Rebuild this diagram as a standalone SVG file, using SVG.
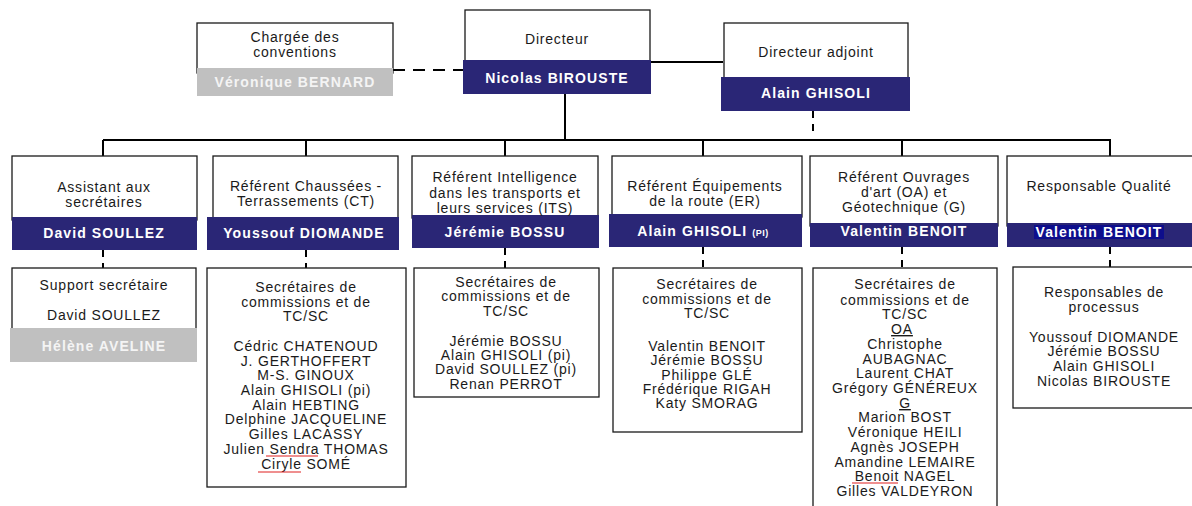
<svg xmlns="http://www.w3.org/2000/svg" width="1192" height="506" viewBox="0 0 1192 506">
<defs>
<style>
.box{fill:#fff;stroke:#1a1a1a;stroke-width:1.3}
.navy{fill:#2a2676}
.gray{fill:#c0c0c0}
text{font-family:"Liberation Sans",Arial,sans-serif;font-size:14px;letter-spacing:0.8px;text-anchor:middle;fill:#1a1a1a}
.w{fill:#fff;font-weight:bold;letter-spacing:1.1px}
.g{fill:#f4f4f4;font-weight:bold;letter-spacing:1.1px}
.ln{stroke:#000;stroke-width:2;fill:none}
.dash{stroke:#000;stroke-width:2;fill:none;stroke-dasharray:7 6}
.red{stroke:#e02020;stroke-width:1.2}
</style>
</defs>
<rect width="1192" height="506" fill="#fff"/>
<g id="connectors">
<line class="ln" x1="393" y1="70" x2="465" y2="70" style="stroke-dasharray:12 8"/>
<line class="ln" x1="650" y1="62" x2="723" y2="62"/>
<line class="ln" x1="565" y1="94" x2="565" y2="140"/>
<line class="dash" x1="813" y1="111" x2="813" y2="132"/>
<line class="ln" x1="103" y1="140" x2="1111" y2="140"/>
<line class="ln" x1="103" y1="140" x2="103" y2="156"/>
<line class="ln" x1="306" y1="140" x2="306" y2="156"/>
<line class="ln" x1="505" y1="140" x2="505" y2="156"/>
<line class="ln" x1="703" y1="140" x2="703" y2="156"/>
<line class="ln" x1="902" y1="140" x2="902" y2="156"/>
<line class="ln" x1="1110" y1="140" x2="1110" y2="156"/>
<line class="dash" x1="103" y1="250" x2="103" y2="268"/>
<line class="dash" x1="306" y1="250" x2="306" y2="268"/>
<line class="dash" x1="505" y1="248" x2="505" y2="268"/>
<line class="dash" x1="703" y1="247" x2="703" y2="268"/>
<line class="dash" x1="902" y1="247" x2="902" y2="268"/>
<line class="dash" x1="1110" y1="247" x2="1110" y2="267"/>
</g>
<g id="chargee">
<rect class="box" x="197" y="23" width="196" height="50"/>
<rect class="gray" x="197" y="68" width="196" height="28"/>
<text x="295" y="42">Chargée des</text>
<text x="295" y="57">conventions</text>
<text class="g" x="295" y="87">Véronique BERNARD</text>
</g>
<g id="directeur">
<rect class="box" x="465" y="10" width="185" height="55"/>
<rect class="navy" x="463" y="60" width="188" height="34"/>
<text x="557" y="44">Directeur</text>
<text class="w" x="557" y="83">Nicolas BIROUSTE</text>
</g>
<g id="adjoint">
<rect class="box" x="724" y="23" width="184" height="58"/>
<rect class="navy" x="721" y="77" width="189" height="34"/>
<text x="816" y="57">Directeur adjoint</text>
<text class="w" x="816" y="98">Alain GHISOLI</text>
</g>
<g id="assistant">
<rect class="box" x="12" y="156" width="185" height="64"/>
<rect class="navy" x="12" y="217" width="185" height="33"/>
<text x="104" y="192">Assistant aux</text>
<text x="104" y="207">secrétaires</text>
<text class="w" x="104" y="238">David SOULLEZ</text>
</g>
<g id="ct">
<rect class="box" x="213" y="156" width="185" height="64"/>
<rect class="navy" x="207" y="217" width="192" height="33"/>
<text x="306" y="191">Référent Chaussées -</text>
<text x="306" y="206">Terrassements (CT)</text>
<text class="w" x="304" y="238">Youssouf DIOMANDE</text>
</g>
<g id="its">
<rect class="box" x="412" y="156" width="186" height="62"/>
<rect class="navy" x="412" y="215" width="187" height="33"/>
<text x="505" y="182">Référent Intelligence</text>
<text x="505" y="198">dans les transports et</text>
<text x="505" y="213">leurs services (ITS)</text>
<text class="w" x="505" y="237">Jérémie BOSSU</text>
</g>
<g id="er">
<rect class="box" x="612" y="156" width="190" height="61"/>
<rect class="navy" x="609" y="214" width="193" height="33"/>
<text x="705" y="191">Référent Équipements</text>
<text x="705" y="206">de la route (ER)</text>
<text class="w" x="703" y="236">Alain GHISOLI <tspan style="font-size:9px;letter-spacing:0.5px">(PI)</tspan></text>
</g>
<g id="oa">
<rect class="box" x="810" y="156" width="188" height="70"/>
<rect class="navy" x="810" y="223" width="188" height="24"/>
<text x="904" y="182">Référent Ouvrages</text>
<text x="904" y="197">d'art (OA) et</text>
<text x="904" y="212">Géotechnique (G)</text>
<text class="w" x="904" y="236">Valentin BENOIT</text>
</g>
<g id="qualite">
<rect class="box" x="1007" y="156" width="190" height="70"/>
<rect class="navy" x="1007" y="223" width="190" height="24"/>
<rect x="1034" y="225" width="130" height="14" fill="#0e0e8c"/>
<text x="1099" y="191">Responsable Qualité</text>
<text class="w" x="1099" y="237">Valentin BENOIT</text>
</g>
<g id="support">
<rect class="box" x="12" y="268" width="184" height="64"/>
<rect class="gray" x="10" y="328" width="187" height="34"/>
<text x="104" y="290">Support secrétaire</text>
<text x="104" y="320">David SOULLEZ</text>
<text class="g" x="104" y="351">Hélène AVELINE</text>
</g>
<g id="sec-ct">
<rect class="box" x="207" y="268" width="199" height="219"/>
<text x="306" y="292">Secrétaires de</text>
<text x="306" y="307">commissions et de</text>
<text x="306" y="321">TC/SC</text>
<text x="306" y="351">Cédric CHATENOUD</text>
<text x="306" y="366">J. GERTHOFFERT</text>
<text x="306" y="380">M-S. GINOUX</text>
<text x="306" y="395">Alain GHISOLI (pi)</text>
<text x="306" y="410">Alain HEBTING</text>
<text x="306" y="424">Delphine JACQUELINE</text>
<text x="306" y="439">Gilles LACASSY</text>
<text x="306" y="454">Julien Sendra THOMAS</text>
<text x="306" y="469">Ciryle SOMÉ</text>
<line class="red" x1="266" y1="456" x2="318" y2="456"/>
<line class="red" x1="258" y1="472" x2="301" y2="472"/>
</g>
<g id="sec-its">
<rect class="box" x="414" y="268" width="185" height="129"/>
<text x="506" y="287">Secrétaires de</text>
<text x="506" y="301">commissions et de</text>
<text x="506" y="316">TC/SC</text>
<text x="506" y="346">Jérémie BOSSU</text>
<text x="506" y="360">Alain GHISOLI (pi)</text>
<text x="506" y="374">David SOULLEZ (pi)</text>
<text x="506" y="389">Renan PERROT</text>
</g>
<g id="sec-er">
<rect class="box" x="613" y="268" width="189" height="164"/>
<text x="707" y="289">Secrétaires de</text>
<text x="707" y="304">commissions et de</text>
<text x="707" y="318">TC/SC</text>
<text x="707" y="351">Valentin BENOIT</text>
<text x="707" y="365">Jérémie BOSSU</text>
<text x="707" y="380">Philippe GLÉ</text>
<text x="707" y="394">Frédérique RIGAH</text>
<text x="707" y="408">Katy SMORAG</text>
</g>
<g id="sec-oa">
<rect class="box" x="813" y="268" width="184" height="260"/>
<text x="905" y="289">Secrétaires de</text>
<text x="905" y="305">commissions et de</text>
<text x="905" y="319">TC/SC</text>
<text x="902" y="334" text-decoration="underline">OA</text>
<text x="905" y="349">Christophe</text>
<text x="905" y="364">AUBAGNAC</text>
<text x="905" y="378">Laurent CHAT</text>
<text x="905" y="393">Grégory GÉNÉREUX</text>
<text x="905" y="408" text-decoration="underline">G</text>
<text x="905" y="422">Marion BOST</text>
<text x="905" y="437">Véronique HEILI</text>
<text x="905" y="452">Agnès JOSEPH</text>
<text x="905" y="467">Amandine LEMAIRE</text>
<text x="905" y="481">Benoit NAGEL</text>
<text x="905" y="496">Gilles VALDEYRON</text>
<line class="red" x1="852" y1="483" x2="898" y2="483"/>
</g>
<g id="processus">
<rect class="box" x="1013" y="267" width="184" height="141"/>
<text x="1104" y="297">Responsables de</text>
<text x="1104" y="312">processus</text>
<text x="1104" y="342">Youssouf DIOMANDE</text>
<text x="1104" y="356">Jérémie BOSSU</text>
<text x="1104" y="371">Alain GHISOLI</text>
<text x="1104" y="386">Nicolas BIROUSTE</text>
</g>
</svg>
